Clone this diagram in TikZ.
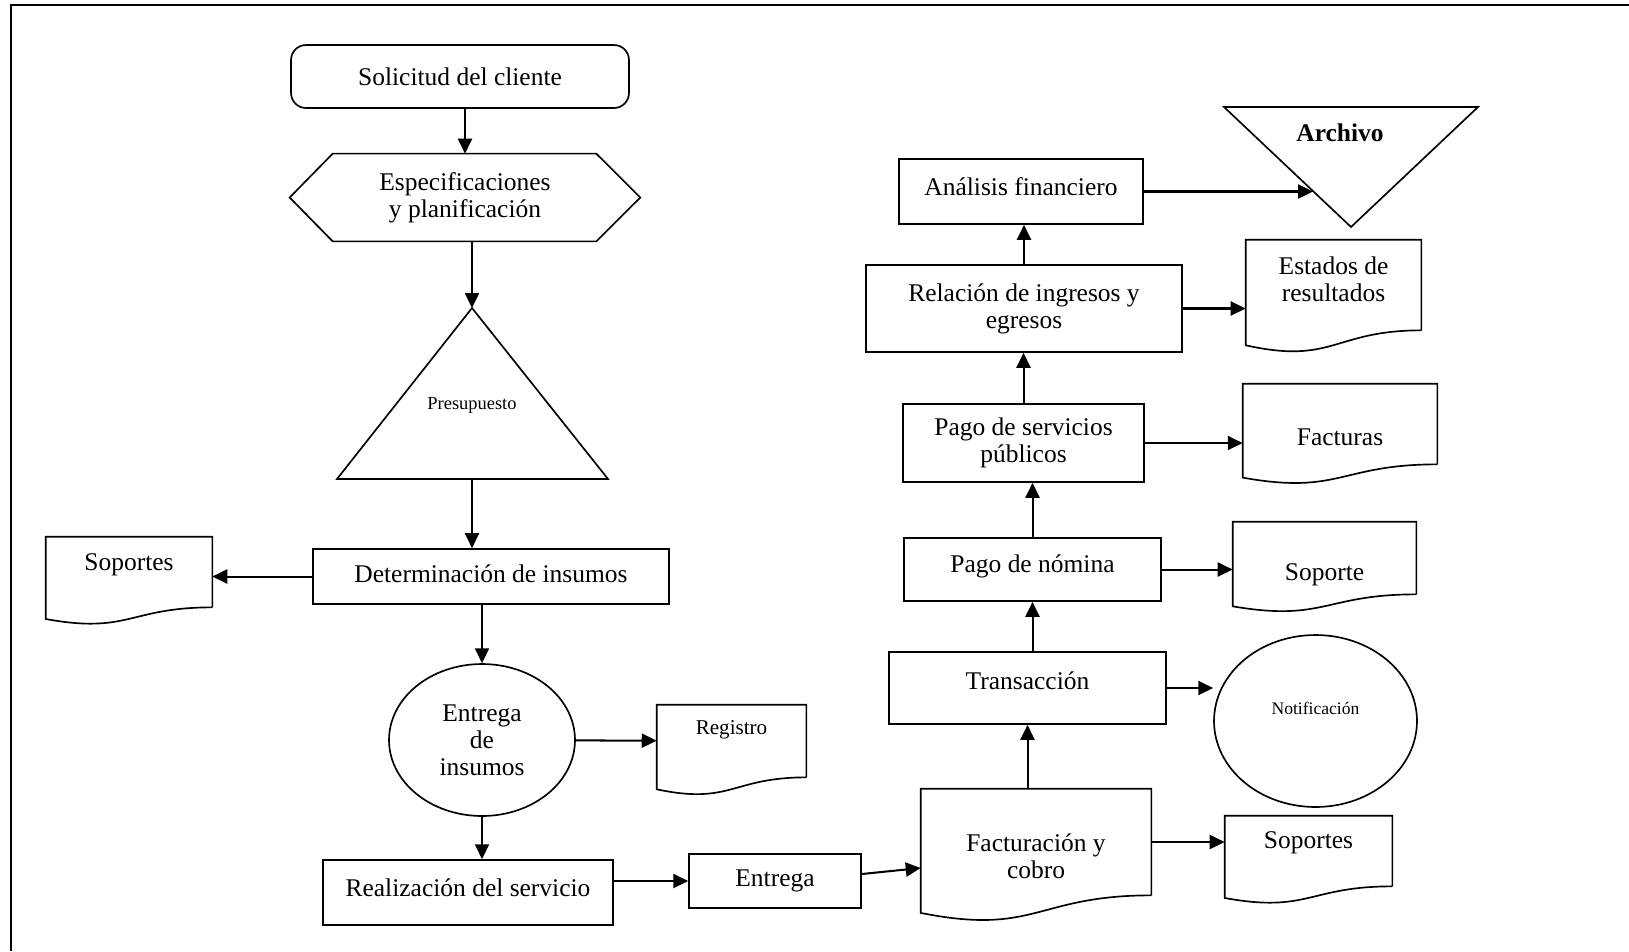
\documentclass[tikz,border=0pt]{standalone}
\usepackage{fontspec}
\setmainfont{Liberation Serif}
\usetikzlibrary{shapes.geometric,calc,arrows.meta}
\tikzset{
  box/.style={draw, line width=0.95pt, align=center, inner sep=2pt},
  oval/.style={draw, ellipse, line width=0.95pt, align=center, inner sep=0pt},
  docu/.style={inner sep=0pt},
  flow/.style={->, line width=1.15pt},
  lift/.style={text depth=#1},
}
% document symbol with wavy bottom
\newcommand\docframe[1]{%
  \draw[line width=0.95pt] (#1.south east) -- (#1.north east) -- (#1.north west)
    -- ($(#1.south west)!-0.1645!(#1.north west)$)
    .. controls ($(#1.south)!-0.381!(#1.north)$) and (#1.south) .. (#1.south east);}
\begin{document}
\begin{tikzpicture}[x=0.02cm, y=-0.02cm, >={Triangle[length=8.5pt,width=8pt]},
    font=\fontsize{14.5}{15.5}\selectfont, every label/.append style={align=center}]
	\useasboundingbox (0,0) rectangle (1629,951);
	\draw[line width=1.2pt] (11,951) -- (11,5) -- (1629,5);
	% left column
	\node[box, rounded corners=0.3cm, minimum width=6.76cm, minimum height=1.26cm] (sol) at (460,76.5) {Solicitud del cliente};
	\node[minimum width=7cm, minimum height=1.74cm, align=center] (esp) at (465,197.5) {Especificaciones\\y planificación};
	\draw[line width=0.95pt] (esp.west) -- ([xshift=0.86cm]esp.north west) -- ([xshift=-0.88cm]esp.north east)
	  -- (esp.east) -- ([xshift=-0.88cm]esp.south east) -- ([xshift=0.86cm]esp.south west) -- cycle;
	\node[font=\fontsize{10.5}{12}\selectfont] (pre) at (472,405) {Presupuesto};
	\coordinate (pretop) at (472,308);
	\coordinate (prebot) at (472,479);
	\draw[line width=0.95pt] (pretop) -- (608,479) -- (337,479) -- cycle;
	\node[box, lift=3.5pt, minimum width=7.12cm, minimum height=1.1cm] (det) at (491,576.5) {Determinación de insumos};
	\node[docu, minimum width=3.32cm, minimum height=1.4cm, label={[yshift=0.14cm]center:Soportes}] (sopL) at (129,572) {};
	\node[oval, minimum width=3.72cm, minimum height=3.04cm] (ins) at (482,740) {Entrega\\de\\insumos};
	\node[docu, minimum width=2.98cm, minimum height=1.44cm, label={[yshift=0.22cm, font=\fontsize{12}{14}\selectfont]center:Registro}] (reg) at (731.5,741) {};
	\node[box, lift=6pt, minimum width=5.8cm, minimum height=1.3cm] (rea) at (468,892.5) {Realización del servicio};
	\node[box, minimum width=3.44cm, minimum height=1.08cm] (ent) at (775,881) {Entrega};
	% right column
	\node[docu, minimum width=4.6cm, minimum height=2.12cm, label={[yshift=-0.28cm]center:Facturación y\\cobro}] (fac) at (1036,842) {};
	\node[docu, minimum width=3.34cm, minimum height=1.4cm, label={[yshift=0.16cm]center:Soportes}] (sopR) at (1308.5,851) {};
	\node[box, lift=8.2pt, minimum width=5.54cm, minimum height=1.44cm] (tra) at (1027.5,688) {Transacción};
	\node[oval, minimum width=4.06cm, minimum height=3.44cm, label={[yshift=0.26cm, font=\fontsize{10}{12}\selectfont]center:Notificación}] (not) at (1315.5,721) {};
	\node[box, lift=6.6pt, minimum width=5.14cm, minimum height=1.26cm] (nom) at (1032.5,569.5) {Pago de nómina};
	\node[docu, minimum width=3.66cm, minimum height=1.44cm, label={[yshift=-0.34cm]center:Soporte}] (sop) at (1324.5,558) {};
	\node[box, minimum width=4.82cm, minimum height=1.56cm] (pub) at (1023.5,443) {Pago de servicios\\públicos};
	\node[docu, minimum width=3.88cm, minimum height=1.6cm, label={[yshift=-0.26cm]center:Facturas}] (fct) at (1340,424) {};
	\node[box, minimum width=6.32cm, minimum height=1.74cm] (rel) at (1024,308.5) {Relación de ingresos y\\egresos};
	\node[docu, minimum width=3.5cm, minimum height=1.8cm, label={[yshift=0.11cm]center:Estados de\\resultados}] (est) at (1333.5,285) {};
	\node[box, lift=6pt, minimum width=4.88cm, minimum height=1.3cm] (ana) at (1021,191.5) {Análisis financiero};
	\node (arc) at (1340,133) {\textbf{Archivo}};
	\draw[line width=0.95pt] (1224,107) -- (1478,107) -- (1351,227) -- cycle;
	\coordinate (arcin) at (1313,191.5);
	\foreach \d in {sopL,reg,fac,sopR,sop,fct,est} \docframe{\d};
	% connectors
	\draw[flow] (esp.north |- sol.south) -- (esp.north);
	\draw[flow] (pretop |- esp.south) -- (pretop);
	\draw[flow] (prebot) -- (prebot |- det.north);
	\draw[flow] (det.west) -- (det.west -| sopL.east);
	\draw[flow] (ins |- det.south) -- (ins.north);
	\draw[flow] (ins) -- (reg);
	\draw[flow] (ins.south) -- (ins.south |- rea.north);
	\draw[flow] (rea.east |- ent) -- (ent.west);
	\draw[flow] ([yshift=0.14cm]ent.east) -- ([yshift=-0.52cm]fac.west);
	\draw[flow] (fac.east) -- (fac.east -| sopR.west);
	\draw[flow] (tra |- fac.north) -- (tra.south);
	\draw[flow] (tra.east) -- (tra.east -| not.west);
	\draw[flow] (nom |- tra.north) -- (nom.south);
	\draw[flow] (nom.east) -- (nom.east -| sop.west);
	\draw[flow] (nom.north) -- (nom.north |- pub.south);
	\draw[flow] (pub.east) -- (pub.east -| fct.west);
	\draw[flow] (pub.north) -- (pub.north |- rel.south);
	\draw[flow] (rel.east) -- (rel.east -| est.west);
	\draw[flow] (rel.north) -- (rel.north |- ana.south);
	\draw[flow] (ana.east) -- (arcin);
\end{tikzpicture}
\end{document}
